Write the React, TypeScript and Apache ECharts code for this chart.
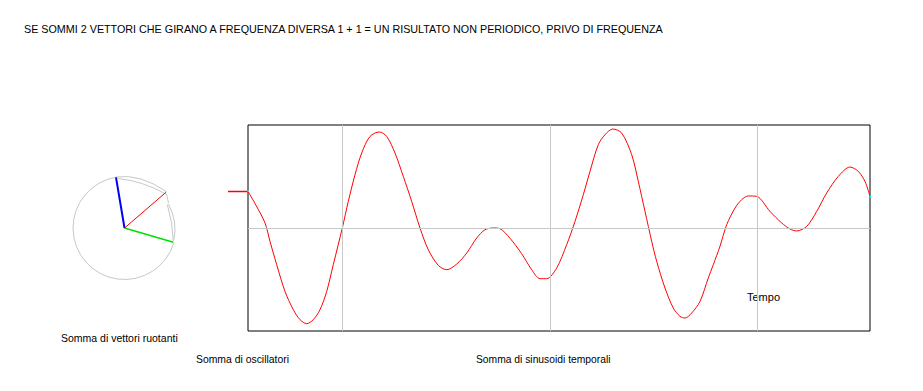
import React, { useEffect, useRef } from "react";
import * as echarts from "echarts";

// Time (units: samples from the start of the plot) and summed signal value (-1..1)
const timeValues: number[] = [
  0, 8, 17, 22, 28.7, 37, 45.3, 52, 58.7, 65.3, 72, 78.7, 85.3, 94.3, 100.3, 107, 113.7, 122, 131.3,
  138.7, 147, 155.3, 163.7, 172, 180.3, 190.3, 198.7, 208.7, 218.7, 228.7, 237, 245.3, 252, 262,
  273.7, 283.7, 292, 298.7, 308.7, 318.7, 327, 335.3, 342, 350.3, 357, 364.7, 373.7, 383.7, 390.3,
  397, 403.7, 408.7, 417, 425.3, 432, 437, 443.7, 452, 460.3, 465.3, 472, 478.7, 487, 493.7, 500.3,
  508.7, 522, 533.7, 542, 548.7, 558.7, 568.7, 578.7, 590.3, 602, 610.3, 617, 622,
];
const signalValues: number[] = [
  0.355, 0.22, 0.049, -0.13, -0.356, -0.616, -0.793, -0.89, -0.929, -0.89, -0.793, -0.616, -0.356, 0,
  0.258, 0.517, 0.728, 0.889, 0.932, 0.889, 0.728, 0.501, 0.258, 0, -0.211, -0.363, -0.405, -0.35,
  -0.243, -0.097, -0.017, 0, -0.007, -0.1, -0.25, -0.405, -0.492, -0.492, -0.388, -0.162, 0.064,
  0.323, 0.55, 0.809, 0.906, 0.961, 0.922, 0.712, 0.452, 0.161, -0.13, -0.324, -0.583, -0.777,
  -0.858, -0.874, -0.825, -0.713, -0.485, -0.356, -0.177, 0.032, 0.194, 0.275, 0.311, 0.307, 0.161,
  0.049, -0.01, -0.029, 0.016, 0.161, 0.34, 0.501, 0.592, 0.55, 0.452, 0.307,
];
const gridTimes: number[] = [94.3, 302.3, 509.3];
const timeMin = 0;
const timeMax = 622;

const titleText =
  "SE SOMMI 2 VETTORI CHE GIRANO A FREQUENZA DIVERSA 1 + 1 = UN RISULTATO NON PERIODICO, PRIVO DI FREQUENZA";
const labelVectors = "Somma di vettori ruotanti";
const labelOscillators = "Somma di oscillatori";
const labelSinusoids = "Somma di sinusoidi temporali";
const labelTime = "Tempo";

const FAMILY = '"Liberation Sans", Arial, sans-serif';
const GRAY = "#c8c8c8";

export default function App() {
  const ref = useRef<HTMLDivElement>(null);

  useEffect(() => {
    if (!ref.current) return;
    const chart = echarts.init(ref.current, null, { renderer: "svg" });
    const data = timeValues.map((t, i) => [t, signalValues[i]]);
    const cx = 124.5;
    const cy = 228;

    const text = (t: string, x: number, y: number, size: number) => ({
      type: "text",
      x,
      y,
      silent: true,
      style: {
        text: t,
        font: `${size}px ${FAMILY}`,
        fill: "#000",
        verticalAlign: "middle",
        align: "left",
      },
    });

    chart.setOption({
      animation: false,
      backgroundColor: "#fff",
      grid: {
        left: 248,
        top: 125,
        width: 622,
        height: 206,
        show: true,
        borderColor: "#000",
        borderWidth: 1,
        backgroundColor: "transparent",
      },
      xAxis: { type: "value", min: timeMin, max: timeMax, show: false },
      yAxis: { type: "value", min: -1, max: 1, show: false },
      series: [
        {
          type: "line",
          data: [],
          z: 1,
          silent: true,
          markLine: {
            silent: true,
            symbol: "none",
            label: { show: false },
            lineStyle: { color: GRAY, width: 1, type: "solid" },
            data: [...gridTimes.map((x) => ({ xAxis: x })), { yAxis: 0 }],
          },
        },
        {
          type: "line",
          data,
          z: 3,
          smooth: 0.3,
          showSymbol: false,
          symbol: "none",
          lineStyle: { color: "#ff0000", width: 1 },
        },
      ],
      graphic: [
        text(titleText, 24, 29, 10.75),
        text(labelVectors, 61, 338, 10.5),
        text(labelOscillators, 196, 359, 10.4),
        text(labelSinusoids, 476, 359, 10.3),
        text(labelTime, 747, 297, 11),
        {
          type: "arc",
          silent: true,
          shape: { cx, cy, r: 51.5, startAngle: 0.285, endAngle: 4.547, clockwise: true },
          style: { stroke: GRAY, fill: "none", lineWidth: 1 },
        },
        {
          type: "bezierCurve",
          silent: true,
          shape: { x1: 116, y1: 177, x2: 167, y2: 192, cpx1: 140.5, cpy1: 173.5 },
          style: { stroke: GRAY, fill: "none", lineWidth: 1 },
        },
        {
          type: "bezierCurve",
          silent: true,
          shape: { x1: 118, y1: 178.5, x2: 166, y2: 194, cpx1: 142.5, cpy1: 181 },
          style: { stroke: GRAY, fill: "none", lineWidth: 1 },
        },
        {
          type: "line",
          silent: true,
          shape: { x1: 166.5, y1: 194, x2: 168.5, y2: 203 },
          style: { stroke: GRAY, lineWidth: 1 },
        },
        {
          type: "bezierCurve",
          silent: true,
          shape: { x1: 167.3, y1: 204.5, x2: 173.3, y2: 241, cpx1: 172.7, cpy1: 222.3 },
          style: { stroke: GRAY, fill: "none", lineWidth: 1 },
        },
        {
          type: "bezierCurve",
          silent: true,
          shape: { x1: 168.5, y1: 204, x2: 173.8, y2: 240, cpx1: 177.8, cpy1: 222 },
          style: { stroke: GRAY, fill: "none", lineWidth: 1 },
        },
        {
          type: "line",
          silent: true,
          shape: { x1: cx, y1: cy, x2: 173.3, y2: 242.3 },
          style: { stroke: "#00e000", lineWidth: 1.5 },
        },
        {
          type: "line",
          silent: true,
          shape: { x1: cx, y1: cy, x2: 116, y2: 177.3 },
          style: { stroke: "#0000ff", lineWidth: 2 },
        },
        {
          type: "line",
          silent: true,
          shape: { x1: cx, y1: cy, x2: 166, y2: 192.3 },
          style: { stroke: "#ff0000", lineWidth: 1 },
        },
        {
          type: "line",
          silent: true,
          z: 5,
          shape: { x1: 228, y1: 191.5, x2: 247.5, y2: 191.5 },
          style: { stroke: "#ff0000", lineWidth: 1.5 },
        },
        {
          type: "rect",
          silent: true,
          z: 10,
          shape: { x: 247.5, y: 190.5, width: 1.5, height: 1.5 },
          style: { fill: "#00ffff" },
        },
        {
          type: "rect",
          silent: true,
          z: 10,
          shape: { x: 869.5, y: 195.5, width: 1.5, height: 2 },
          style: { fill: "#00ffff" },
        },
      ],
    });
    return () => chart.dispose();
  }, []);

  return (
    <div
      ref={ref}
      style={{ position: "fixed", left: 0, top: 0, width: 923, height: 391, background: "#fff" }}
    />
  );
}
